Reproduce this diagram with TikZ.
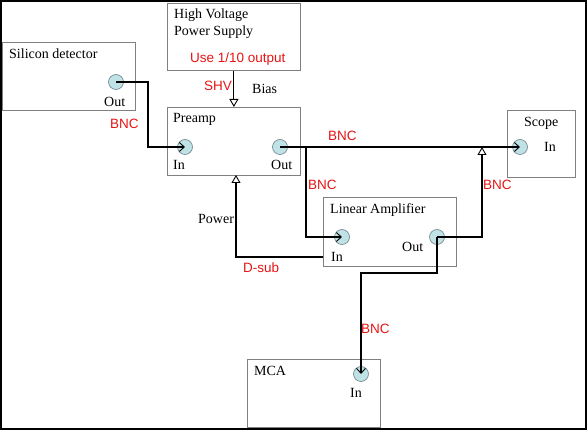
\documentclass[tikz,border=0pt]{standalone}
\usepackage{fontspec}
\setmainfont{Liberation Serif}
\setsansfont{Liberation Sans}
\usetikzlibrary{arrows.meta}
\definecolor{boxgray}{RGB}{128, 128, 128}
\definecolor{portfill}{RGB}{190, 226, 230}
\definecolor{portedge}{RGB}{110, 130, 135}
\definecolor{cablered}{RGB}{230, 20, 20}

\begin{document}
\begin{tikzpicture}[x=1pt, y=-1pt,
    unit/.style={draw=boxgray, line width=0.8pt, anchor=north west, inner sep=0, minimum width=133pt, minimum height=68pt},
    port/.style={circle, draw=portedge, line width=0.6pt, fill=portfill, minimum size=15pt, inner sep=0},
    txt/.style={anchor=base west, inner sep=0, font=\fontsize{14}{16}\selectfont},
    cable/.style={anchor=base west, inner sep=0, font=\sffamily\fontsize{13.5}{16}\selectfont, text=cablered},
    wire/.style={draw, line width=1.1pt},
    signal/.style={wire, -{Straight Barb[length=5pt, width=9pt, line width=0.9pt]}},
    supply/.style={wire, -{Triangle[open, fill=white, length=8pt, width=9pt, line width=0.9pt]}}
  ]
    % Frame
    \useasboundingbox (0, 0) rectangle (587, 430);
    \draw[line width=1.6pt] (0.8, 0.8) rectangle (585.8, 428.8);

    % Units
    \node[unit] (det) at (2, 42) {};
    \node[unit, minimum height=67pt] (hv) at (167, 3) {};
    \node[unit] (pre) at (167, 107) {};
    \node[unit, minimum width=68pt, minimum height=67pt] (scope) at (507, 110) {};
    \node[unit, minimum height=69pt] (la) at (323, 197) {};
    \node[unit, minimum height=68pt] (mca) at (247, 359) {};

    % Unit names
    \node[txt] (detname) at (9, 59) {Silicon detector};
    \node[txt] (hvname) at (174, 19) {High Voltage};
    \node[txt] (hvname2) at (174, 36) {Power Supply};
    \node[txt] (prename) at (173, 123) {Preamp};
    \node[txt] (scopename) at (524, 127) {Scope};
    \node[txt] (laname) at (330, 214) {Linear Amplifier};
    \node[txt] (mcaname) at (254, 376) {MCA};

    % Ports
    \node[port] (detout) at (116, 82) {};
    \node[port] (prein) at (185, 147) {};
    \node[port] (preout) at (280, 147) {};
    \node[port] (scopein) at (520, 147) {};
    \node[port] (lain) at (342, 237) {};
    \node[port] (laout) at (437, 237) {};
    \node[port] (mcain) at (361, 374) {};

    % Port labels
    \node[txt] (detoutl) at (104, 107) {Out};
    \node[txt] (preinl) at (173, 170) {In};
    \node[txt] (preoutl) at (271, 170) {Out};
    \node[txt] (scopeinl) at (544, 152) {In};
    \node[txt] (lainl) at (331, 262) {In};
    \node[txt] (laoutl) at (402, 252) {Out};
    \node[txt] (mcainl) at (350, 398) {In};
    \node[txt] (bias) at (252, 94) {Bias};
    \node[txt] (power) at (198, 224) {Power};

    % Bend points
    \coordinate (detjog) at (148, 82);
    \coordinate (split) at (306, 147);
    \coordinate (join) at (482, 147);
    \coordinate (mcajog) at (437, 273);
    \coordinate (lapow) at (323, 257);
    \coordinate (prepow) at (236, 175);

    % Connections
    \draw[signal] (detout.center) -- (detjog) |- (prein.center);
    \draw[supply] (hv.south) -- (pre.north);
    \draw[signal] (preout.center) -- (scopein.center);
    \draw[signal] (split) |- (lain.center);
    \draw[supply] (laout.center) -| (join);
    \draw[signal] (laout.center) -- (mcajog) -| (mcain.center);
    \draw[supply] (lapow) -| (prepow);

    % Cable labels
    \node[cable] (uselbl) at (190, 63) {Use 1/10 output};
    \node[cable] (shvlbl) at (204, 91) {SHV};
    \node[cable] (bnc1) at (110, 129) {BNC};
    \node[cable] (bnc2) at (328, 141) {BNC};
    \node[cable] (bnc3) at (308, 190) {BNC};
    \node[cable] (bnc4) at (483, 190) {BNC};
    \node[cable] (dsub) at (243, 273) {D-sub};
    \node[cable] (bnc5) at (361, 334) {BNC};
  \end{tikzpicture}
\end{document}
